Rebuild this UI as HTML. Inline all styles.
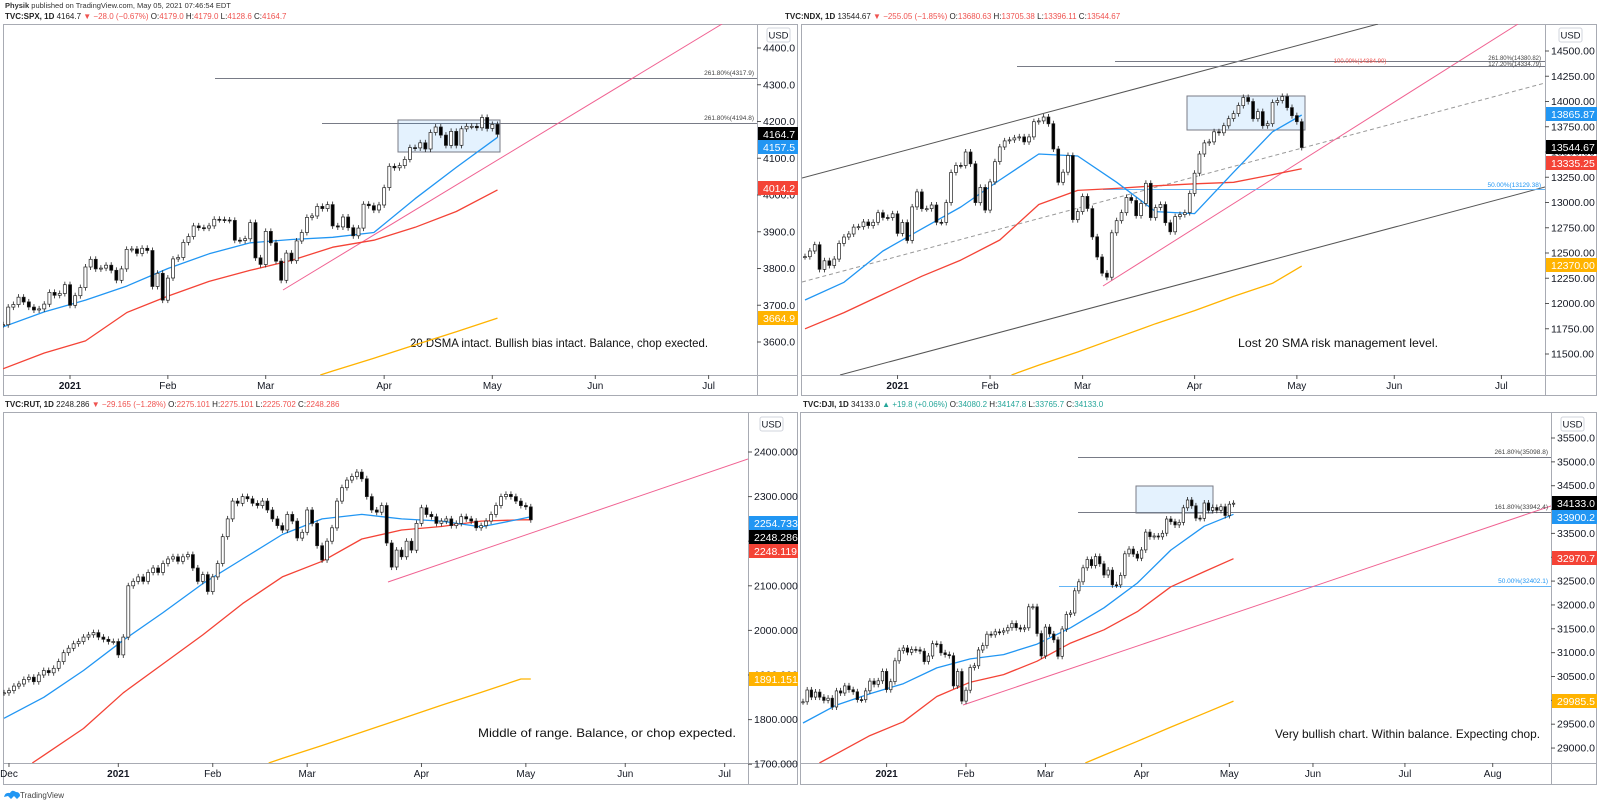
<!DOCTYPE html>
<html><head><meta charset="utf-8"><style>
html,body{margin:0;padding:0;background:#fff;width:1600px;height:805px;overflow:hidden;}
svg{display:block;font-family:"Liberation Sans",sans-serif;}
</style></head><body>
<svg id="root" width="1600" height="805" viewBox="0 0 1600 805" xmlns="http://www.w3.org/2000/svg">
<defs>
<clipPath id="c-spx"><rect x="3" y="24" width="754" height="351"/></clipPath>
<clipPath id="c-ndx"><rect x="802" y="24" width="743" height="351"/></clipPath>
<clipPath id="c-rut"><rect x="3" y="413" width="745" height="350"/></clipPath>
<clipPath id="c-dji"><rect x="801" y="413" width="750" height="350"/></clipPath>
</defs>
<text x="5" y="8" font-size="7.5" fill="#333"><tspan font-weight="bold">Physik</tspan> published on TradingView.com, May 05, 2021 07:46:54 EDT</text>

<g fill="none" stroke="#a8abb3" stroke-width="1">
<rect x="3.5" y="24.5" width="794" height="371"/>
<line x1="757.5" y1="24" x2="757.5" y2="396"/><line x1="3" y1="375.5" x2="798" y2="375.5"/>
<rect x="801.5" y="24.5" width="795" height="371"/>
<line x1="1545.5" y1="24" x2="1545.5" y2="396"/><line x1="802" y1="375.5" x2="1597" y2="375.5"/>
<rect x="3.5" y="412.5" width="794" height="372"/>
<line x1="748.5" y1="412" x2="748.5" y2="785"/><line x1="3" y1="763.5" x2="798" y2="763.5"/>
<rect x="800.5" y="412.5" width="796" height="372"/>
<line x1="1551.5" y1="412" x2="1551.5" y2="785"/><line x1="801" y1="763.5" x2="1597" y2="763.5"/>
</g>

<g font-size="8">
<text x="5" y="19"><tspan font-weight="bold" fill="#222">TVC:SPX, 1D</tspan><tspan fill="#222"> 4164.7 </tspan><tspan fill="#ef5350">▼ −28.0 (−0.67%)</tspan><tspan fill="#222"> O:</tspan><tspan fill="#ef5350">4179.0</tspan><tspan fill="#222"> H:</tspan><tspan fill="#ef5350">4179.0</tspan><tspan fill="#222"> L:</tspan><tspan fill="#ef5350">4128.6</tspan><tspan fill="#222"> C:</tspan><tspan fill="#ef5350">4164.7</tspan></text>
<text x="785" y="19"><tspan font-weight="bold" fill="#222">TVC:NDX, 1D</tspan><tspan fill="#222"> 13544.67 </tspan><tspan fill="#ef5350">▼ −255.05 (−1.85%)</tspan><tspan fill="#222"> O:</tspan><tspan fill="#ef5350">13680.63</tspan><tspan fill="#222"> H:</tspan><tspan fill="#ef5350">13705.38</tspan><tspan fill="#222"> L:</tspan><tspan fill="#ef5350">13396.11</tspan><tspan fill="#222"> C:</tspan><tspan fill="#ef5350">13544.67</tspan></text>
<text x="5" y="407"><tspan font-weight="bold" fill="#222">TVC:RUT, 1D</tspan><tspan fill="#222"> 2248.286 </tspan><tspan fill="#ef5350">▼ −29.165 (−1.28%)</tspan><tspan fill="#222"> O:</tspan><tspan fill="#ef5350">2275.101</tspan><tspan fill="#222"> H:</tspan><tspan fill="#ef5350">2275.101</tspan><tspan fill="#222"> L:</tspan><tspan fill="#ef5350">2225.702</tspan><tspan fill="#222"> C:</tspan><tspan fill="#ef5350">2248.286</tspan></text>
<text x="803" y="407"><tspan font-weight="bold" fill="#222">TVC:DJI, 1D</tspan><tspan fill="#222"> 34133.0 </tspan><tspan fill="#26a69a">▲ +19.8 (+0.06%)</tspan><tspan fill="#222"> O:</tspan><tspan fill="#26a69a">34080.2</tspan><tspan fill="#222"> H:</tspan><tspan fill="#26a69a">34147.8</tspan><tspan fill="#222"> L:</tspan><tspan fill="#26a69a">33765.7</tspan><tspan fill="#222"> C:</tspan><tspan fill="#26a69a">34133.0</tspan></text>
</g>

<g clip-path="url(#c-spx)">
<line x1="215" y1="78.5" x2="757" y2="78.5" stroke="#787b86" stroke-width="1"/>
<line x1="322" y1="123.5" x2="757" y2="123.5" stroke="#787b86" stroke-width="1"/>
<rect x="398" y="120" width="102" height="32" fill="rgba(33,150,243,0.12)" stroke="#787b86"/>
<line x1="283" y1="290" x2="722" y2="24" stroke="#f06292" stroke-width="1"/>
</g>
<text x="754" y="75" font-size="6.5" text-anchor="end" fill="#444">261.80%(4317.9)</text>
<text x="754" y="120" font-size="6.5" text-anchor="end" fill="#444">261.80%(4194.8)</text>
<text x="410" y="347" font-size="12" textLength="298" lengthAdjust="spacingAndGlyphs" fill="#111">20 DSMA intact. Bullish bias intact. Balance, chop exected.</text>

<g clip-path="url(#c-ndx)">
<line x1="802" y1="178" x2="1378" y2="24" stroke="#555" stroke-width="1"/>
<line x1="840" y1="375" x2="1545" y2="187" stroke="#555" stroke-width="1"/>
<line x1="802" y1="282" x2="1545" y2="83" stroke="#999" stroke-width="1" stroke-dasharray="4,3"/>
<line x1="1103" y1="286" x2="1518" y2="24" stroke="#f06292" stroke-width="1"/>
<line x1="1103" y1="189.5" x2="1545" y2="189.5" stroke="#64b5f6" stroke-width="1"/>
<line x1="1115" y1="61.5" x2="1545" y2="61.5" stroke="#787b86" stroke-width="1"/>
<line x1="1017" y1="66.5" x2="1545" y2="66.5" stroke="#787b86" stroke-width="1"/>
<rect x="1187" y="96" width="118" height="34" fill="rgba(33,150,243,0.12)" stroke="#787b86"/>
</g>
<text x="1360" y="63" font-size="6" text-anchor="middle" fill="#ef5350">100.00%(14384.90)</text>
<text x="1541" y="60" font-size="6" text-anchor="end" fill="#444">261.80%(14380.82)</text>
<text x="1541" y="66" font-size="6" text-anchor="end" fill="#444">127.20%(14334.79)</text>
<text x="1541" y="187" font-size="6.5" text-anchor="end" fill="#2196f3">50.00%(13129.38)</text>
<text x="1238" y="347" font-size="12" textLength="200" lengthAdjust="spacingAndGlyphs" fill="#111">Lost 20 SMA risk management level.</text>

<g clip-path="url(#c-rut)">
<line x1="388" y1="582" x2="748" y2="459" stroke="#f06292" stroke-width="1"/>
</g>
<text x="478" y="737" font-size="12" textLength="258" lengthAdjust="spacingAndGlyphs" fill="#111">Middle of range. Balance, or chop expected.</text>

<g clip-path="url(#c-dji)">
<line x1="1078" y1="457.5" x2="1551" y2="457.5" stroke="#787b86" stroke-width="1"/>
<line x1="1078" y1="512.5" x2="1551" y2="512.5" stroke="#787b86" stroke-width="1"/>
<line x1="1059" y1="586.5" x2="1551" y2="586.5" stroke="#64b5f6" stroke-width="1"/>
<rect x="1136" y="486" width="77" height="27" fill="rgba(33,150,243,0.12)" stroke="#787b86"/>
<line x1="963" y1="705" x2="1551" y2="506" stroke="#f06292" stroke-width="1"/>
</g>
<text x="1548" y="454" font-size="6.5" text-anchor="end" fill="#444">261.80%(35098.8)</text>
<text x="1548" y="509" font-size="6.5" text-anchor="end" fill="#444">161.80%(33942.4)</text>
<text x="1548" y="583" font-size="6.5" text-anchor="end" fill="#2196f3">50.00%(32402.1)</text>
<text x="1275" y="738" font-size="12" textLength="265" lengthAdjust="spacingAndGlyphs" fill="#111">Very bullish chart. Within balance. Expecting chop.</text>

<g>
<path d="M4 797 q1-5 6-4 q2-4 6-1 q4 0 4 4 l-3 3 l-3-3 l-3 3 l-3-3 z" fill="#2196f3"/>
<text x="20" y="798" font-size="8" fill="#444">TradingView</text>
</g>
<g id="charts"></g>
</svg>
<script>
const spxCloses=[3647,3695,3702,3722,3709,3695,3687,3690,3703,3735,3727,3732,3756,
3700,3726,3748,3804,3825,3799,3801,3809,3795,3768,3799,3852,3853,3841,3855,3849,3751,3787,3714,
3774,3826,3830,3871,3887,3916,3911,3910,3916,3934,3933,3932,3931,3877,3876,3881,3925,3829,3811,
3901,3870,3820,3768,3842,3821,3875,3898,3939,3943,3969,3963,3974,3916,3913,3940,3911,3889,3910,3975,3971,3959,3973,
4020,4078,4074,4080,4097,4129,4128,4142,4125,4170,4185,4163,4135,4173,4135,4180,4187,4187,4183,4211,4181,
4192,4165];
const spxSma20=[3641,3682,3714,3752,3800,3840,3870,3879,3885,3898,3990,4075,4157];
const spxSma50=[3527,3570,3603,3680,3725,3765,3795,3822,3858,3877,3912,3955,4014];
const spxSma200=[3240,3275,3310,3345,3380,3415,3450,3485,3521,3556,3592,3628,3665];
const spxPriceTicks=[4400,4300,4200,4100,4000,3900,3800,3700,3600];
const spxTimeLabels=['2021','Feb','Mar','Apr','May','Jun','Jul'];
const spxTimeIdx=[13,32,51,74,95,115,137];
const spxTags=[['4164.7','#000'],['4157.5','#2196f3'],['4014.2','#f44336'],['3664.9','#ffb300']];

const ndxCloses=[12464,12520,12582,12338,12423,12377,12440,12595,12658,12688,12756,12760,12807,12771,12804,12899,12851,12850,12888,
12694,12802,12624,12956,13105,12939,12939,12975,12804,12803,12999,13297,13367,13366,13500,13383,12999,13150,12925,
13204,13404,13550,13610,13620,13640,13650,13600,13650,13800,13808,13847,13780,13530,13200,13300,13465,12830,12910,
13060,12940,12660,12460,12300,12260,12700,12820,12900,13050,13020,12870,12990,13190,12850,12950,12980,12800,12710,12860,12880,12900,13090,
13290,13480,13590,13600,13700,13690,13760,13830,13880,13960,14040,14000,13830,13900,13760,13780,13990,14010,14050,13940,13860,
13800,13545];
const ndxSma20=[12035,12210,12520,12740,12955,13223,13480,13460,13200,12910,12890,13300,13700,13866];
const ndxSma50=[11750,11910,12090,12270,12430,12629,12980,13120,13140,13165,13185,13200,13275,13335];
const ndxSma200=[10570,10700,10840,10980,11110,11250,11390,11520,11660,11800,11930,12070,12200,12370];
const ndxPriceTicks=[14500,14250,14000,13750,13500,13250,13000,12750,12500,12250,12000,11750,11500];
const ndxTimeLabels=['2021','Feb','Mar','Apr','May','Jun','Jul'];
const ndxTimeIdx=[19,38,57,80,101,121,143];
const ndxTags=[['13865.87','#2196f3'],['13544.67','#000'],['13335.25','#f44336'],['12370.00','#ffb300']];

const rutCloses=[1860,1865,1875,1880,1890,1895,1885,1900,1910,1905,1915,1930,1950,1960,1970,1975,1985,1990,1995,1985,1980,1975,1975,
1945,1985,2100,2110,2120,2110,2130,2140,2130,2150,2160,2165,2155,2165,2170,2140,2110,2125,2087,
2120,2150,2210,2250,2290,2285,2300,2295,2285,2280,2290,2270,2250,2235,2225,2260,2245,2207,2220,
2270,2240,2190,2158,2200,2230,2290,2320,2337,2345,2355,2340,2300,2270,2265,2280,2196,2142,2180,2165,2200,2180,2240,
2275,2260,2255,2240,2245,2250,2235,2240,2255,2250,2245,2230,2235,2245,2260,2280,2300,2305,2300,2290,2280,
2277,2248];
const rutSma20=[1803,1850,1910,1978,2040,2105,2160,2215,2250,2260,2250,2245,2232,2250,2255];
const rutSma50=[1660,1720,1780,1860,1925,1990,2060,2120,2155,2205,2225,2233,2245,2248,2248];
const rutSma200=[1504,1534,1564,1593,1623,1653,1683,1713,1742,1772,1802,1832,1861,1891,1891];
const rutPriceTicks=[2400,2300,2200,2100,2000,1900,1800,1700];
const rutTimeLabels=['Dec','2021','Feb','Mar','Apr','May','Jun','Jul'];
const rutTimeIdx=[1,23,42,61,84,105,125,145];
const rutTags=[['2254.733','#2196f3'],['2248.286','#000'],['2248.119','#f44336'],['1891.151','#ffb300']];

const djiCloses=[29970,30218,30069,30174,30068,29999,30046,29861,30199,30155,30303,30223,30179,30016,30015,30199,30403,30335,30409,30606,
30224,30392,30829,31041,31098,31009,31069,31060,31031,30814,30930,31188,31176,30997,30960,30937,30303,30604,29983,
30212,30688,30724,31056,31148,31386,31375,31438,31430,31458,31523,31613,31522,31494,31521,31962,31962,31402,30932,
31535,31392,31270,30924,31496,31802,31832,32297,32485,32779,32953,32826,33015,32862,32628,32731,32423,32420,32619,33072,33171,33067,32982,
33153,33527,33430,33446,33430,33503,33801,33745,33677,33730,34036,34200,34078,33821,33815,34137,33982,34043,33984,34060,33875,
34113,34133];
const djiSma20=[29525,29900,30140,30350,30680,30870,30960,31180,31520,31940,32460,33150,33650,33900];
const djiSma50=[28500,28880,29260,29550,30080,30380,30540,30820,31200,31480,31860,32380,32700,32970];
const djiSma200=[26216,26505,26803,27092,27390,27679,27977,28266,28555,28853,29142,29440,29729,29985];
const djiPriceTicks=[35500,35000,34500,34000,33500,33000,32500,32000,31500,31000,30500,30000,29500,29000];
const djiTimeLabels=['2021','Feb','Mar','Apr','May','Jun','Jul','Aug'];
const djiTimeIdx=[20,39,58,81,102,122,144,165];
const djiTags=[['34133.0','#000'],['33900.2','#2196f3'],['32970.7','#f44336'],['29985.5','#ffb300']];

const NS='http://www.w3.org/2000/svg';
const root=document.getElementById('charts');
function mk(tag,attrs,parent){const e=document.createElementNS(NS,tag);for(const k in attrs)e.setAttribute(k,attrs[k]);parent.appendChild(e);return e;}

// clip polyline to y<=B (keeps geometry inside the frame)
function clipPts(pts,B){
  const out=[];
  for(let i=0;i<pts.length;i++){
    const p=pts[i];
    if(i>0){
      const q=pts[i-1];
      if((q[1]>B)!==(p[1]>B)){
        const t=(B-q[1])/(p[1]-q[1]);
        out.push([q[0]+t*(p[0]-q[0]),B]);
      }
    }
    if(p[1]<=B)out.push(p);
  }
  return out;
}

function drawChart(cfg,closes,s20,s50,s200,pticks,tlabels,tidx,tags){
  const xs=i=>cfg.x0+cfg.step*i;
  const ys=p=>cfg.yRef+(cfg.pRef-p)*cfg.k;
  const g=mk('g',{},root);
  
  
  const plot=mk('g',{'clip-path':'url(#c-'+cfg.id+')'},g);
  
  
  const mas=[[s200,'#ffb300','sma200'],[s50,'#f44336','sma50'],[s20,'#2196f3','sma20']];
  mas.forEach(m=>{
    const raw=m[0].map((v,k)=>{const i=Math.min(k*8,closes.length-1);return [xs(i),ys(v)];});
    const cl=clipPts(raw,cfg.B);
    if(cl.length<2)return;
    const pts=cl.map(p=>p[0].toFixed(1)+','+p[1].toFixed(1)).join(' ');
    const pl=mk('polyline',{points:pts,fill:'none',stroke:m[1],'stroke-width':1.3,'stroke-linejoin':'round'},plot);
    
    
  });
  const bw=Math.max(2,cfg.step*0.6);
  closes.forEach((c,i)=>{
    const o=i>0?closes[i-1]:c;
    const x=xs(i);
    const yTop=ys(Math.max(o,c)), yBot=ys(Math.min(o,c));
    const up=c>=o;
    const w=mk('line',{x1:x,x2:x,y1:yTop-3,y2:yBot+3,stroke:'#222','stroke-width':0.8},plot);
    
    
    const b=mk('rect',{x:(x-bw/2).toFixed(1),y:yTop.toFixed(1),width:bw.toFixed(1),height:Math.max(1,yBot-yTop).toFixed(1),fill:up?'#fff':'#000',stroke:'#222','stroke-width':0.7},plot);
    
    
  });
  pticks.forEach(p=>{
    const y=ys(p);
    if(y<cfg.T+20||y>cfg.B+2)return;
    mk('line',{x1:cfg.R,x2:cfg.R+4,y1:y,y2:y,stroke:'#555','stroke-width':1},g);
    const t=mk('text',{x:cfg.R+6,y:y+3.5,'font-size':10.5,fill:'#131722'},g);
    t.textContent=p.toFixed(cfg.dec);
    
    
  });
  const ub=mk('rect',{x:cfg.R+cfg.usdX,y:cfg.T+4,width:23,height:14,rx:2,fill:'#fff',stroke:'#d1d4dc'},g);
  
  
  const ut=mk('text',{x:cfg.R+cfg.usdX+11.5,y:cfg.T+14.5,'font-size':9.5,'text-anchor':'middle',fill:'#131722'},g);
  ut.textContent='USD';
  
  
  tags.forEach((tg,j)=>{
    const y=cfg.tagY[j];
    const r=mk('rect',{x:cfg.R+1,y:y-7,width:cfg.tagW,height:14,fill:tg[1]},g);
    
    
    const t=mk('text',{x:cfg.R+6,y:y+3.8,'font-size':10.5,fill:'#fff'},g);
    t.textContent=tg[0];
    
    
  });
  tlabels.forEach((lab,j)=>{
    const x=xs(tidx[j]);
    if(x>cfg.R-8)return;
    mk('line',{x1:x,x2:x,y1:cfg.B,y2:cfg.B+4,stroke:'#555','stroke-width':1},g);
    const t=mk('text',{x:x,y:cfg.B+14,'font-size':10,'text-anchor':'middle',fill:'#131722','font-weight':lab==='2021'?'bold':'normal'},g);
    t.textContent=lab;
    
    
  });
}

drawChart({id:'spx',x0:3.05,step:5.15,R:757,T:24,B:375,yRef:48,pRef:4400,k:0.3675,dec:1,usdX:10,tagW:40,tagY:[134,147,188,318]},
  spxCloses,spxSma20,spxSma50,spxSma200,spxPriceTicks,spxTimeLabels,spxTimeIdx,spxTags);
drawChart({id:'ndx',x0:805,step:4.87,R:1545,T:24,B:375,yRef:51,pRef:14500,k:0.101,dec:2,usdX:14,tagW:51,tagY:[114,147,163,265]},
  ndxCloses,ndxSma20,ndxSma50,ndxSma200,ndxPriceTicks,ndxTimeLabels,ndxTimeIdx,ndxTags);
drawChart({id:'rut',x0:4,step:4.97,R:748,T:413,B:763,yRef:452,pRef:2400,k:0.446,dec:3,usdX:12,tagW:49,tagY:[523,537,551,679]},
  rutCloses,rutSma20,rutSma50,rutSma200,rutPriceTicks,rutTimeLabels,rutTimeIdx,rutTags);
drawChart({id:'dji',x0:803,step:4.18,R:1551,T:413,B:763,yRef:438,pRef:35500,k:0.0477,dec:1,usdX:10,tagW:45,tagY:[503,517,558,701]},
  djiCloses,djiSma20,djiSma50,djiSma200,djiPriceTicks,djiTimeLabels,djiTimeIdx,djiTags);
</script>
</body></html>
